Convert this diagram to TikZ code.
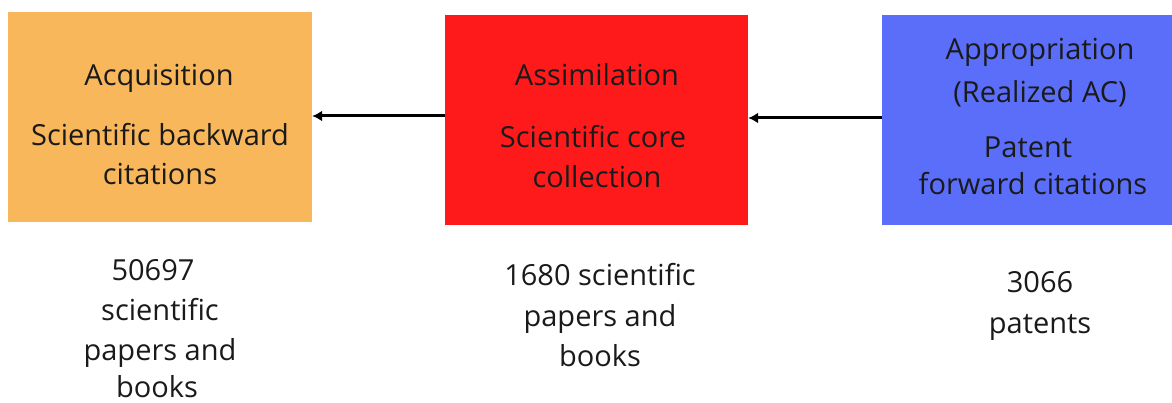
\documentclass[tikz,border=0pt]{standalone}
\usepackage{fontspec}
\setmainfont{Open Sans}
\usetikzlibrary{arrows.meta}
\definecolor{orangebox}{HTML}{F9B75B}
\definecolor{redbox}{HTML}{FE1A1A}
\definecolor{bluebox}{HTML}{5A6EF9}
\definecolor{ink}{HTML}{1A1A1A}
\tikzset{
  box/.style={draw=none, minimum width=#1, minimum height=210pt, inner sep=0pt},
  txt/.style={anchor=base, inner sep=0pt, text=ink, font=\fontsize{29pt}{35pt}\selectfont},
  flow/.style={draw=black, line width=3pt, -{Latex[length=10pt,width=11pt]}}
}
\begin{document}
\begin{tikzpicture}[x=1pt,y=-1pt]
\useasboundingbox (0,0) rectangle (1172,403);
\node[box=304pt, fill=orangebox] (acq) at (160,117) {};
\node[box=303pt, fill=redbox] (ass) at (596.5,120) {};
\node[box=290pt, fill=bluebox] (app) at (1027,120) {};

\node[txt] (t1a) at (159,86) {Acquisition};
\node[txt] (t1b) at (160,146) {Scientific backward};
\node[txt] (t1c) at (160,185) {citations};

\node[txt] (t2a) at (597,86) {Assimilation};
\node[txt] (t2b) at (593,148) {Scientific core};
\node[txt] (t2c) at (597,188) {collection};

\node[txt] (t3a) at (1040,60) {Appropriation};
\node[txt] (t3b) at (1040,103) {(Realized AC)};
\node[txt] (t3c) at (1028,158) {Patent};
\node[txt] (t3d) at (1033,195) {forward citations};

\node[txt] (b1a) at (153,280) {50697};
\node[txt] (b1b) at (160,320) {scientific};
\node[txt] (b1c) at (160,360) {papers and};
\node[txt] (b1d) at (157,397) {books};

\node[txt] (b2a) at (600,285) {1680 scientific};
\node[txt] (b2b) at (600,326) {papers and};
\node[txt] (b2c) at (600,366) {books};

\node[txt] (b3a) at (1040,292) {3066};
\node[txt] (b3b) at (1040,333) {patents};

\draw[flow] ([yshift=1pt]ass.west |- acq.east) -- ([yshift=1pt]acq.east);
\draw[flow] ([yshift=2pt]app.west) -- ([yshift=2pt]ass.east);
\end{tikzpicture}
\end{document}
